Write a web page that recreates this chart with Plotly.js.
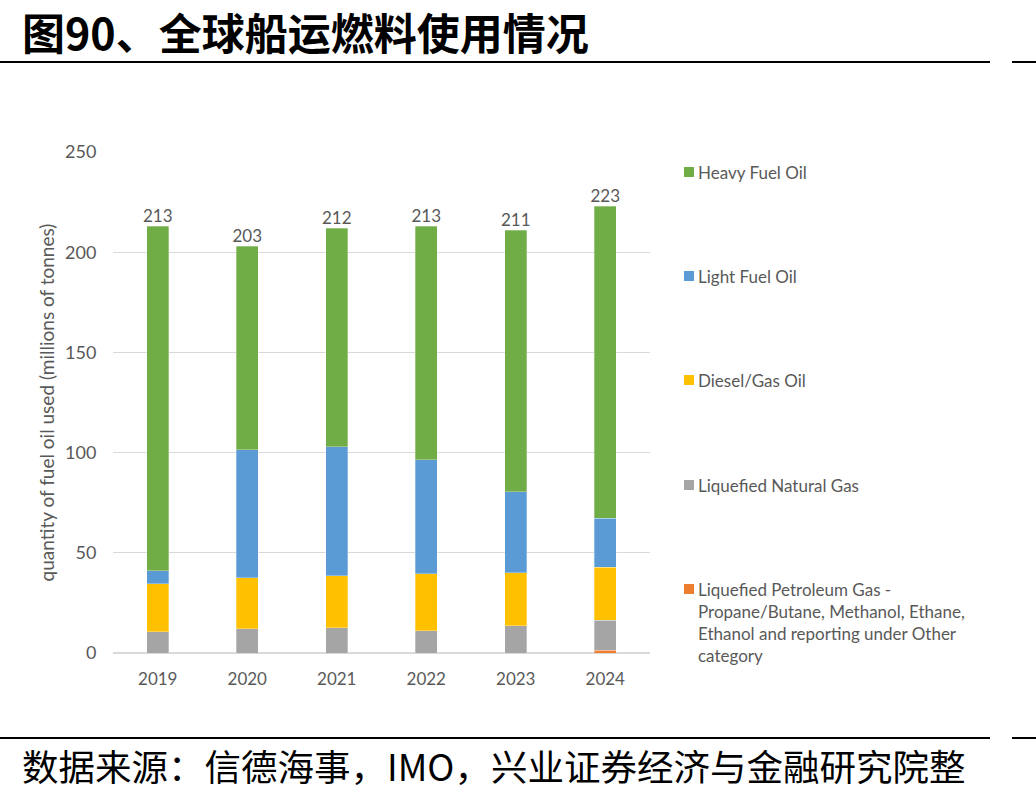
<!DOCTYPE html>
<html>
<head>
<meta charset="utf-8">
<script src="https://cdn.plot.ly/plotly-3.0.1.min.js"></script>
<style>
html,body{margin:0;padding:0;background:#fff;}
#wrap{position:relative;width:1036px;height:799px;overflow:hidden;}
#title{position:absolute;left:22px;top:2px;font-family:"Noto Sans CJK SC";font-weight:bold;font-size:43px;line-height:58px;color:#000;white-space:nowrap;}
#src{position:absolute;left:22px;top:740px;font-family:"Noto Sans CJK SC";font-size:36.5px;line-height:52px;color:#000;white-space:nowrap;}
.rule{position:absolute;height:2px;background:#000;}
#chart{position:absolute;left:0;top:80px;width:1036px;height:640px;}
</style>
</head>
<body>
<div id="wrap">
<div id="title">图90、全球船运燃料使用情况</div>
<div class="rule" style="left:0;top:61px;width:990px;"></div>
<div class="rule" style="left:1012px;top:61px;width:24px;"></div>
<div id="chart"></div>
<div class="rule" style="left:0;top:737px;width:990px;"></div>
<div class="rule" style="left:1012px;top:737px;width:24px;"></div>
<div id="src">数据来源：信德海事，IMO，兴业证券经济与金融研究院整</div>
</div>
<script>
var years = ['2019','2020','2021','2022','2023','2024'];
var lpg    = [0, 0, 0, 0, 0, 1.3];
var lng    = [10.5, 12, 12.5, 11, 13.5, 15];
var diesel = [24, 25.5, 26, 28.5, 26.5, 26.5];
var lfo    = [6.5, 64, 64.5, 57, 40.5, 24.5];
var hfo    = [172, 101.5, 109, 116.5, 130.5, 155.7];
var totals = [213, 203, 212, 213, 211, 223];

var names = ['Liquefied Petroleum Gas -<br>Propane/Butane, Methanol, Ethane,<br>Ethanol and reporting under Other<br>category',
             'Liquefied Natural Gas','Diesel/Gas Oil','Light Fuel Oil','Heavy Fuel Oil'];
var series = [lpg, lng, diesel, lfo, hfo];
var colors = ['#ED7D31','#A5A5A5','#FFC000','#5B9BD5','#70AD47'];

var traces = series.map(function(s,i){
  return {type:'bar', x:years, y:s, name:names[i],
    marker:{color:colors[i], line:{color:'rgba(255,255,255,0.6)', width:0.5}},
    hoverinfo:'skip'};
});
traces.push({type:'scatter', mode:'text', x:years, y:totals, text:totals.map(String),
  textposition:'top center', textfont:{family:'Lato', size:17, color:'#595959'},
  showlegend:false, hoverinfo:'skip', cliponaxis:false});

// legend drawn as annotations + squares (page layout: plot area x 113..650, y 152..653; chart div offset 80)
var M = {l:113, r:386, t:72, b:67}, W = 1036, H = 640;
var pw = W - M.l - M.r, ph = H - M.t - M.b;
function px(X){ return (X - M.l) / pw; }
function py(Y){ return 1 - (Y - 80 - M.t) / ph; }
var legendY = [589, 485, 380, 276, 172]; // first-line centre per series (page px), same order as series
var annotations = [], shapes = [];
series.forEach(function(s,i){
  var Y = legendY[i];
  annotations.push({xref:'paper', yref:'paper', x:px(696), y:py(Y - 12), xanchor:'left', yanchor:'top',
    align:'left', showarrow:false, text:names[i], font:{family:'Lato', size:17, color:'#595959'}});
  shapes.push({type:'rect', xref:'paper', yref:'paper', x0:px(684), x1:px(694), y0:py(Y + 5), y1:py(Y - 5),
    fillcolor:colors[i], line:{width:0}});
});

var layout = {
  width:W, height:H,
  margin:M,
  paper_bgcolor:'#fff', plot_bgcolor:'#fff',
  barmode:'stack', bargap:0.75,
  showlegend:false,
  font:{family:'Lato', color:'#595959'},
  annotations:annotations, shapes:shapes,
  xaxis:{type:'category', showgrid:false, zeroline:false, showline:false,
    tickfont:{family:'Lato', size:17, color:'#595959'}, ticks:'outside', ticklen:11, tickcolor:'rgba(0,0,0,0)', automargin:false},
  yaxis:{range:[0,250], dtick:50, showgrid:true, gridcolor:'#D9D9D9', gridwidth:1,
    zeroline:true, zerolinecolor:'#D9D9D9', zerolinewidth:2, showline:false,
    tickfont:{family:'Lato', size:18, color:'#595959'}, ticks:'outside', ticklen:12, tickcolor:'rgba(0,0,0,0)',
    title:{text:'quantity of fuel oil used (millions of tonnes)', font:{family:'Lato', size:19, color:'#595959'}, standoff:5},
    automargin:false}
};
Plotly.newPlot('chart', traces, layout, {displayModeBar:false, staticPlot:true});
</script>
</body>
</html>
